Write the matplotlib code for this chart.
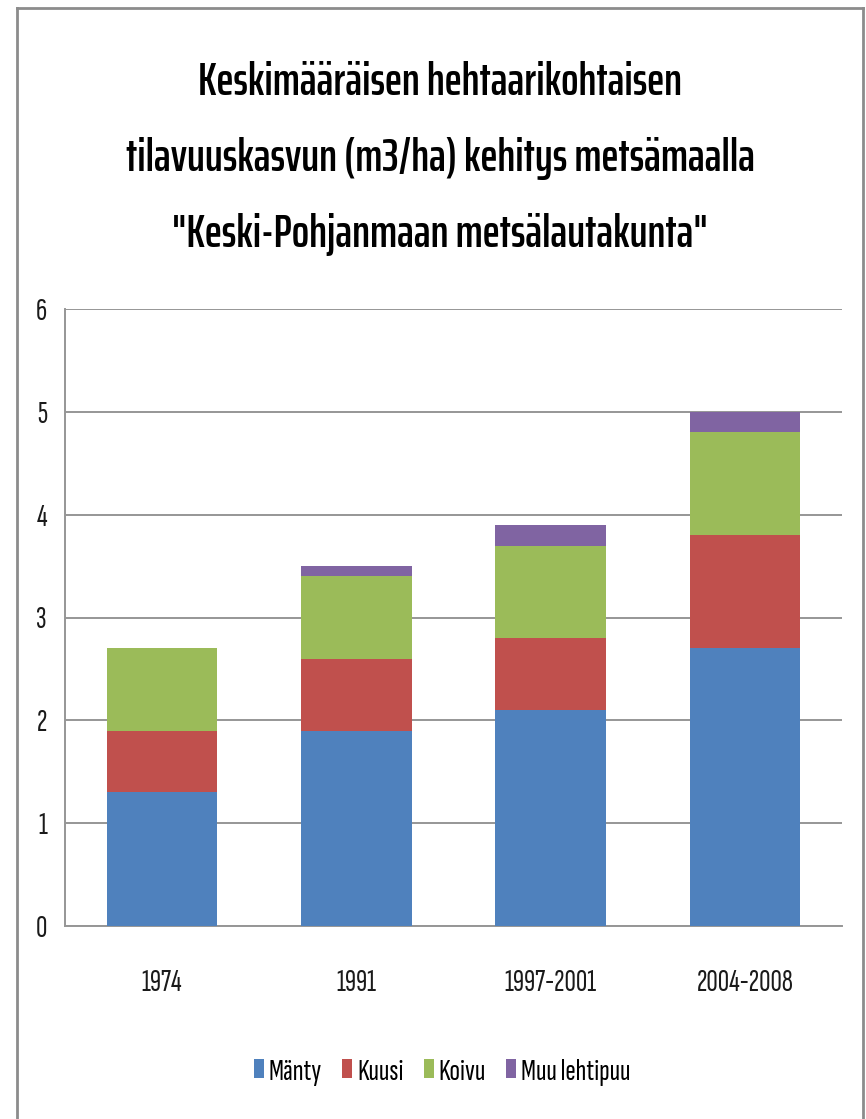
import matplotlib
matplotlib.use("Agg")
import matplotlib.pyplot as plt
from matplotlib.lines import Line2D
from matplotlib.patches import Patch
import numpy as np

categories = ["1974", "1991", "1997-2001", "2004-2008"]
series_names = ["Mänty", "Kuusi", "Koivu", "Muu lehtipuu"]
manty = [1.3, 1.9, 2.1, 2.7]
kuusi = [0.6, 0.7, 0.7, 1.1]
koivu = [0.8, 0.8, 0.9, 1.0]
muu = [0.0, 0.1, 0.2, 0.2]
yticks = [0, 1, 2, 3, 4, 5, 6]
title_lines = ["Keskimääräisen hehtaarikohtaisen",
               "tilavuuskasvun (m3/ha) kehitys metsämaalla",
               '"Keski-Pohjanmaan metsälautakunta"']
colors = ["#4F81BD", "#C0504D", "#9BBB59", "#8064A2"]

TITLE_FONT = ["Saira ExtraCondensed", "Barlow Condensed", "DejaVu Sans"]
BODY_FONT = ["Sofia Sans Extra Condensed", "Archivo Narrow", "DejaVu Sans"]
plt.rcParams["font.family"] = BODY_FONT

W, H = 866, 1119
fig = plt.figure(figsize=(W / 100, H / 100), dpi=100)
renderer = fig.canvas.get_renderer()


def fit_size(text, target_px, family, weight="normal", base=20):
    t = fig.text(0, 0, text, fontsize=base, family=family, fontweight=weight)
    w = t.get_window_extent(renderer).width
    t.remove()
    return base * target_px / w


ax = fig.add_axes([65 / W, 1 - 926 / H, (842 - 65) / W, (926 - 309) / H])

x = np.arange(len(categories))
bottom = np.zeros(len(categories))
for name, vals, c in zip(series_names, [manty, kuusi, koivu, muu], colors):
    ax.bar(x, vals, 0.57, bottom=bottom, color=c, label=name, zorder=3)
    bottom += np.array(vals)

tick_fs = fit_size("1997-2001", 92, BODY_FONT)
ax.set_xlim(-0.5, len(categories) - 0.5)
ax.set_ylim(0, 6)
ax.set_yticks(yticks)
ax.set_yticklabels([str(v) for v in yticks], fontsize=tick_fs, color="#1a1a1a")
ax.set_xticks(x)
ax.set_xticklabels(categories, fontsize=tick_fs, color="#1a1a1a")
ax.tick_params(axis="both", length=0)
ax.tick_params(axis="y", pad=13)
ax.tick_params(axis="x", pad=31)
ax.yaxis.grid(True, color="#969696", linewidth=1.4, zorder=0)
for s in ["top", "right"]:
    ax.spines[s].set_visible(False)
for s in ["left", "bottom"]:
    ax.spines[s].set_color("#969696")
    ax.spines[s].set_linewidth(1.4)

title_fs = fit_size(title_lines[1], 630, TITLE_FONT, weight=600)
for line, base_y in zip(title_lines, [95, 171, 247]):
    fig.text(440 / W, 1 - base_y / H, line, ha="center", va="baseline", fontsize=title_fs,
             family=TITLE_FONT, fontweight=600, color="black")

leg_fs = fit_size("Muu lehtipuu", 110, BODY_FONT)
leg_px = leg_fs * 100 / 72
handles = [Patch(facecolor=c, edgecolor="none") for c in colors]
fig.legend(handles, series_names, loc="center", bbox_to_anchor=(442 / W, 1 - 1072 / H),
           ncol=4, frameon=False, fontsize=leg_fs, handlelength=10 / leg_px,
           handleheight=18 / leg_px, handletextpad=5 / leg_px, columnspacing=20 / leg_px,
           borderpad=0, borderaxespad=0)

# outer chart border
bc = "#8C8C8C"
fig.add_artist(Line2D([17 / W, 17 / W], [0, 1 - 8 / H], color=bc, linewidth=2))
fig.add_artist(Line2D([17 / W, 863 / W], [1 - 8 / H, 1 - 8 / H], color=bc, linewidth=2))
fig.add_artist(Line2D([863 / W, 863 / W], [0, 1 - 8 / H], color=bc, linewidth=2))

fig.savefig("out.png", dpi=100)
